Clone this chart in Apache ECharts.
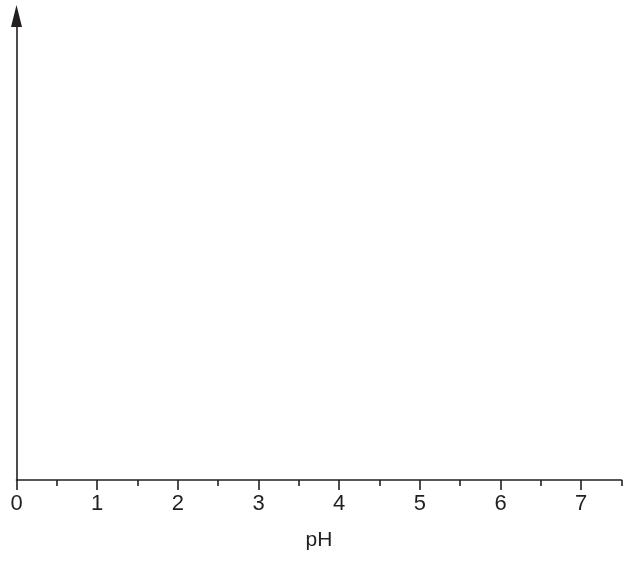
<!DOCTYPE html>
<html>
<head>
<meta charset="utf-8">
<style>
  html, body { margin: 0; padding: 0; background: #fff; }
  #chart { width: 632px; height: 565px; }
</style>
<script src="https://cdn.jsdelivr.net/npm/echarts@6/dist/echarts.min.js"></script>
</head>
<body>
<div id="chart"></div>
<script>
// axis data
var xName = 'pH';
var xMin = 0;
var xMax = 7.5;
var majorTicks = [0, 1, 2, 3, 4, 5, 6, 7];
var minorTicks = [0.5, 1.5, 2.5, 3.5, 4.5, 5.5, 6.5, 7.5];
var tickLabels = ['0', '1', '2', '3', '4', '5', '6', '7'];

var ink = '#231f20';
var chart = echarts.init(document.getElementById('chart'));

var option = {
    animation: false,
    grid: { left: 16.5, right: 10.5, top: 16, bottom: 85 },
    xAxis: [{
        type: 'value',
        min: xMin,
        max: xMax,
        interval: 0.5,
        name: xName,
        nameLocation: 'middle',
        nameGap: 50,
        nameTextStyle: { color: ink, fontSize: 21, fontFamily: 'Liberation Sans' },
        splitLine: { show: false },
        axisLine: { lineStyle: { color: ink, width: 1.6 } },
        axisTick: {
            customValues: majorTicks,
            length: 10,
            lineStyle: { color: ink, width: 1.6 }
        },
        axisLabel: {
            customValues: majorTicks,
            formatter: function (v) {
                return tickLabels[majorTicks.indexOf(v)];
            },
            margin: 13,
            color: ink,
            fontSize: 22,
            fontFamily: 'Liberation Sans'
        }
    }, {
        type: 'value',
        min: xMin,
        max: xMax,
        interval: 0.5,
        position: 'bottom',
        splitLine: { show: false },
        axisLine: { show: false },
        axisTick: {
            customValues: minorTicks,
            length: 6,
            lineStyle: { color: ink, width: 1.6 }
        },
        axisLabel: { show: false }
    }],
    yAxis: {
        type: 'value',
        min: 0,
        max: 1,
        splitLine: { show: false },
        axisTick: { show: false },
        axisLabel: { show: false },
        axisLine: {
            show: true,
            symbol: ['none', 'triangle'],
            symbolSize: [11, 22],
            lineStyle: { color: ink, width: 1.6 }
        }
    },
    series: []
};

chart.setOption(option);
</script>
</body>
</html>
